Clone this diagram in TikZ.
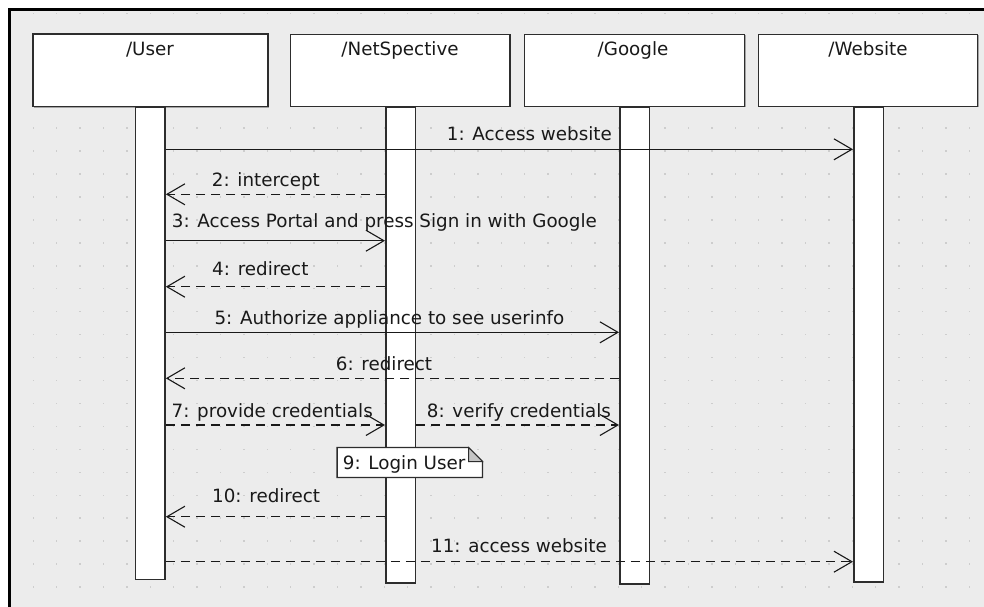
\documentclass[tikz,border=0pt]{standalone}
\usepackage{fontspec}
\setmainfont{DejaVu Sans}
\usetikzlibrary{arrows.meta,shadows}
\definecolor{bgc}{RGB}{236,236,236}
\definecolor{dotc}{RGB}{205,205,205}
\definecolor{edgec}{RGB}{45,45,45}
\definecolor{txtc}{RGB}{25,25,25}
\definecolor{foldc}{RGB}{196,196,196}
\tikzset{
  hdr/.style={draw=edgec, line width=1.5pt, fill=white, inner sep=0pt,
    drop shadow={shadow xshift=1.2pt, shadow yshift=-1.2pt, fill=black, opacity=0.3}},
  bar/.style={hdr, minimum width=29.5pt, anchor=north},
  lbl/.style={font=\fontsize{18.3pt}{20pt}\selectfont, text=txtc, inner sep=0pt, anchor=base west},
  ttl/.style={font=\fontsize{18.3pt}{20pt}\selectfont, text=txtc, inner sep=0pt, anchor=base},
  msg/.style={draw=black!90, line width=1.1pt, -{Straight Barb[length=18pt,width=21pt,line width=1.1pt]}},
  reply/.style={msg, dash pattern=on 9pt off 6pt},
}
\begin{document}
\begin{tikzpicture}[x=1pt,y=-1pt]
\useasboundingbox (0,0) rectangle (984,606);
\clip (0,0) rectangle (984,606);
% frame
\fill[white] (0,0) rectangle (984,606);
\draw[line width=2.2pt, fill=bgc] (9.5,9.5) rectangle (1000,620);
% dot grid
\foreach \i in {0,...,40}{
  \foreach \j in {0,...,25}{
    \fill[dotc] ({33.3+23.4*\i-0.75},{13.3+22.95*\j-0.75}) rectangle +(1.5,1.5);
  }
}
% header boxes
\node[hdr, minimum width=235pt, minimum height=72.5pt] (user) at (150.5,70.25) {};
\node[hdr, minimum width=219.3pt, minimum height=72pt] (net) at (400.35,70.25) {};
\node[hdr, minimum width=220pt, minimum height=72pt] (goog) at (634.3,70.25) {};
\node[hdr, minimum width=219pt, minimum height=72pt] (web) at (868.2,70.25) {};
\node[ttl] (userl) at (150,55) {/User};
\node[ttl] (netl) at (400,55) {/NetSpective};
\node[ttl] (googl) at (633,55) {/Google};
\node[ttl] (webl) at (868,55) {/Website};
% activation bars
\node[bar, minimum height=472pt] (ubar) at (150.35,106.5) {};
\node[bar, minimum height=475.5pt] (nbar) at (400.5,106.5) {};
\node[bar, minimum height=476.5pt] (gbar) at (634.5,106.5) {};
\node[bar, minimum height=474.5pt] (wbar) at (868.5,106.5) {};
% message levels
\coordinate (y1) at (0,149.3);
\coordinate (y2) at (0,194.3);
\coordinate (y3) at (0,240.7);
\coordinate (y4) at (0,286.7);
\coordinate (y5) at (0,332.3);
\coordinate (y6) at (0,378.3);
\coordinate (y7) at (0,425);
\coordinate (y10) at (0,516.7);
\coordinate (y11) at (0,561.7);
% messages
\draw[msg] (ubar.east |- y1) -- (wbar.west |- y1);
\node[lbl] (l1) at (446.7,140) {1: Access website};
\draw[reply] (nbar.west |- y2) -- (ubar.east |- y2);
\node[lbl] (l2) at (211.7,186) {2: intercept};
\draw[msg] (ubar.east |- y3) -- (nbar.west |- y3);
\node[lbl] (l3) at (171.7,227.5) {3: Access Portal and press Sign in with Google};
\draw[reply] (nbar.west |- y4) -- (ubar.east |- y4);
\node[lbl] (l4) at (212,275.5) {4: redirect};
\draw[msg] (ubar.east |- y5) -- (gbar.west |- y5);
\node[lbl] (l5) at (214.3,324.3) {5: Authorize appliance to see userinfo};
\draw[reply] (gbar.west |- y6) -- (ubar.east |- y6);
\node[lbl] (l6) at (335.7,370) {6: redirect};
\draw[reply] (ubar.east |- y7) -- (nbar.west |- y7);
\node[lbl] (l7) at (171.5,417.3) {7: provide credentials};
\draw[reply] (nbar.east |- y7) -- (gbar.west |- y7);
\node[lbl] (l8) at (426.7,417.3) {8: verify credentials};
% note
\node[minimum width=145pt, minimum height=29.6pt, inner sep=0pt] (login) at (409.8,462.5) {};
\draw[edgec, line width=1.3pt, fill=white]
  (login.north west) -- ([xshift=-14pt]login.north east) -- ([yshift=-14pt]login.north east)
  -- (login.south east) -- (login.south west) -- cycle;
\draw[edgec, line width=1pt, fill=foldc]
  ([xshift=-14pt]login.north east) -- ([xshift=-14pt,yshift=-14pt]login.north east) -- ([yshift=-14pt]login.north east) -- cycle;
\node[lbl] (l9) at (342.7,469.3) {9: Login User};
\draw[reply] (nbar.west |- y10) -- (ubar.east |- y10);
\node[lbl] (l10) at (212,502) {10: redirect};
\draw[reply] (ubar.east |- y11) -- (wbar.west |- y11);
\node[lbl] (l11) at (431,552.7) {11: access website};
\end{tikzpicture}
\end{document}
